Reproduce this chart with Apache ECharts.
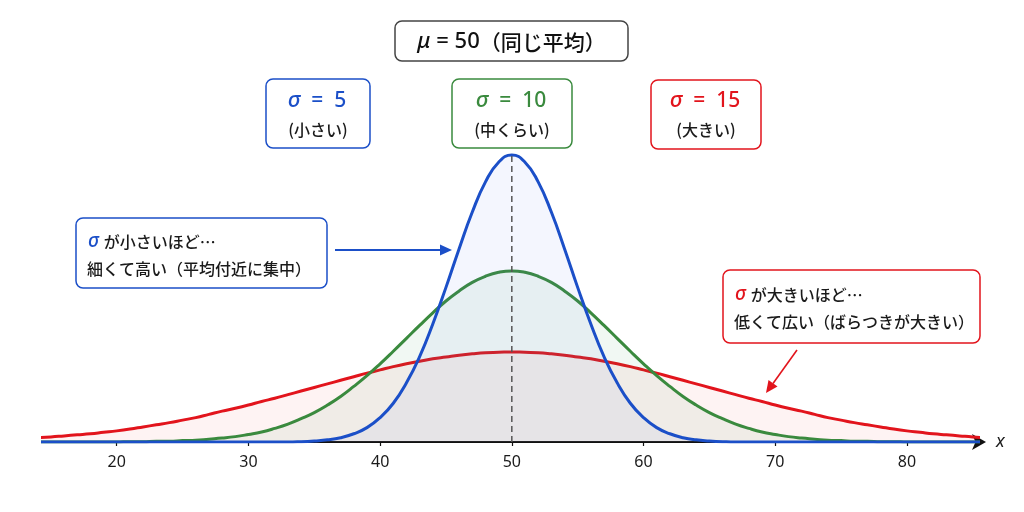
<!DOCTYPE html>
<html>
<head>
<meta charset="utf-8">
<script src="https://cdn.jsdelivr.net/npm/echarts@6/dist/echarts.min.js"></script>
<style>
html,body{margin:0;padding:0;background:#fff;}
#c{width:1024px;height:512px;}
</style>
</head>
<body>
<div id="c"></div>
<script>
// x positions (shared by all curves)
const xValues = [14,15,16,17,18,19,20,21,22,23,24,25,26,27,28,29,30,31,32,33,34,35,36,37,38,39,40,41,42,43,44,45,46,47,48,49,50,
  51,52,53,54,55,56,57,58,59,60,61,62,63,64,65,66,67,68,69,70,71,72,73,74,75,76,77,78,79,80,81,82,83,84,85,86];

// sigma = 5 (blue)
const sigma5 = [0,0,0,0,0,0,0,0,0,0,0,0,0,0,0,0,0,0,0,0,
  0.0001,0.0003,0.0006,0.0012,0.0023,0.0040,0.0068,0.0108,0.0165,0.0238,0.0329,0.0431,0.0539,0.0641,0.0725,0.0780,0.0800,
  0.0780,0.0725,0.0641,0.0539,0.0431,0.0329,0.0238,0.0165,0.0108,0.0068,0.0040,0.0023,0.0012,0.0006,0.0003,0.0001,
  0,0,0,0,0,0,0,0,0,0,0,0,0,0,0,0,0,0,0,0];

// sigma = 10 (green)
const sigma10 = [0,0,0,0,0,0,0,0.0001,0.0001,0.0002,0.0002,0.0004,0.0005,0.0008,0.0011,0.0015,0.0021,0.0028,0.0038,0.0050,
  0.0065,0.0082,0.0103,0.0127,0.0155,0.0185,0.0218,0.0253,0.0289,0.0325,0.0360,0.0393,0.0421,0.0445,0.0462,0.0473,0.0477,
  0.0473,0.0462,0.0445,0.0421,0.0393,0.0360,0.0325,0.0289,0.0253,0.0218,0.0185,0.0155,0.0127,0.0103,0.0082,0.0065,
  0.0050,0.0038,0.0028,0.0021,0.0015,0.0011,0.0008,0.0005,0.0004,0.0002,0.0002,0.0001,0.0001,0,0,0,0,0,0,0];

// sigma = 15 (red)
const sigma15 = [0.0012,0.0014,0.0017,0.0020,0.0023,0.0027,0.0031,0.0036,0.0042,0.0048,0.0054,0.0061,0.0068,0.0077,0.0086,0.0094,
  0.0103,0.0113,0.0122,0.0132,0.0142,0.0152,0.0162,0.0172,0.0182,0.0192,0.0201,0.0210,0.0218,0.0225,0.0232,0.0237,0.0242,0.0246,0.0249,0.0250,0.0251,
  0.0250,0.0249,0.0246,0.0242,0.0237,0.0232,0.0225,0.0218,0.0210,0.0201,0.0192,0.0182,0.0172,0.0162,0.0152,0.0142,0.0132,0.0122,0.0113,0.0103,
  0.0094,0.0086,0.0077,0.0068,0.0061,0.0054,0.0048,0.0042,0.0036,0.0031,0.0027,0.0023,0.0020,0.0017,0.0014,0.0012];

// mean line
const meanValue = 50;
const meanLineTop = 0.0808;

// tick labels
const xTicks = [20,30,40,50,60,70,80];

const F = '"Noto Sans CJK JP", "Noto Sans", sans-serif';
const FL = '"Noto Sans", "Noto Sans CJK JP", sans-serif';
const BLUE = '#1b4fc8', GREEN = '#3a8a3e', RED = '#e2141c', DARK = '#1a1a1a';

function pairs(ys){ return xValues.map((x,i)=>[x, ys[i]]); }

function box(x, y, w, h, color){
  return {type:'rect', shape:{x:x, y:y, width:w, height:h, r:7},
    style:{fill:'#fff', stroke:color, lineWidth:1.5}, z:10};
}
function txt(t, x, y, size, color, rich, align, family){
  return {type:'text', z:11, style:{text:t, x:x, y:y, fontSize:size, fontFamily:family || F, fontWeight:500, fill:color,
    align: align || 'center', verticalAlign:'middle', rich: rich || {}}};
}
function sig(color, size){ return {s:{fontStyle:'italic', fontWeight:500, fontSize:size, fontFamily:FL, fill:color}}; }

const chart = echarts.init(document.getElementById('c'));
chart.setOption({
  animation:false,
  backgroundColor:'#fff',
  grid:{left:43, right:46, top:83.25, bottom:70},
  xAxis:{type:'value', min:14.4, max:85.4,
    axisLine:{show:true, lineStyle:{color:'#111', width:2}, symbol:['none','arrow'], symbolSize:[12,14], symbolOffset:[0,8]},
    axisTick:{show:true, length:4, lineStyle:{color:'#111', width:1.2}, customValues:xTicks},
    axisLabel:{color:DARK, fontSize:16, fontFamily:FL, margin:12, customValues:xTicks},
    splitLine:{show:false},
    name:'x', nameLocation:'end', nameGap:18,
    nameTextStyle:{fontStyle:'italic', fontSize:18, color:DARK, fontFamily:FL, verticalAlign:'middle'}
  },
  yAxis:{type:'value', min:0, max:0.1, show:false},
  series:[
    {type:'line', name:'σ=15', data:pairs(sigma15), smooth:true, symbol:'none', clip:true,
      lineStyle:{color:RED, width:3}, areaStyle:{color:'rgba(232,60,60,0.09)'}, z:2},
    {type:'line', name:'σ=10', data:pairs(sigma10), smooth:true, symbol:'none', clip:true,
      lineStyle:{color:GREEN, width:3}, areaStyle:{color:'rgba(60,150,80,0.10)'}, z:3},
    {type:'line', name:'σ=5', data:pairs(sigma5), smooth:true, symbol:'none', clip:true,
      lineStyle:{color:BLUE, width:3}, areaStyle:{color:'rgba(80,110,235,0.09)'}, z:4},
    {type:'line', name:'mean', data:[[meanValue,0],[meanValue,meanLineTop]], symbol:'none',
      lineStyle:{color:'#555', width:1.5, type:[6,4]}, z:5}
  ],
  graphic:[
    box(395,21,233,40,'#444'),
    txt('{m|μ}{n| = 50}（同じ平均）', 511.5, 42, 21, '#111',
      {m:{fontStyle:'italic', fontSize:22, fontFamily:FL, fontWeight:500, fill:'#111'},
       n:{fontSize:22, fontFamily:FL, fontWeight:500, fill:'#111'}}),

    box(266,79,104,69,BLUE),
    txt('{s|σ}  =  5', 317, 101, 21, BLUE, sig(BLUE,22), null, FL),
    txt('(小さい)', 318, 130, 16, DARK),

    box(452,79,120,69,GREEN),
    txt('{s|σ}  =  10', 511, 101, 21, GREEN, sig(GREEN,22), null, FL),
    txt('(中くらい)', 512, 130, 16, DARK),

    box(651,80,110,69,RED),
    txt('{s|σ}  =  15', 705, 101, 21, RED, sig(RED,22), null, FL),
    txt('(大きい)', 706, 130, 16, DARK),

    box(76,218,251,70,BLUE),
    txt('{s|σ }が小さいほど…', 88, 242, 16, DARK, sig(BLUE,19), 'left'),
    txt('細くて高い（平均付近に集中）', 87, 269, 16, DARK, null, 'left'),
    {type:'line', z:11, shape:{x1:335, y1:250, x2:442, y2:250}, style:{stroke:BLUE, lineWidth:1.8}},
    {type:'polygon', z:11, shape:{points:[[452,250],[440,244.5],[440,255.5]]}, style:{fill:BLUE}},

    box(723,270,257,73,RED),
    txt('{s|σ }が大きいほど…', 735, 295, 16, DARK, sig(RED,19), 'left'),
    txt('低くて広い（ばらつきが大きい）', 734, 322, 16, DARK, null, 'left'),
    {type:'line', z:11, shape:{x1:797, y1:350, x2:773, y2:383.5}, style:{stroke:RED, lineWidth:1.6}},
    {type:'polygon', z:11, shape:{points:[[766,393],[777.5,386.4],[768.5,380]]}, style:{fill:RED}}
  ]
});
</script>
</body>
</html>
